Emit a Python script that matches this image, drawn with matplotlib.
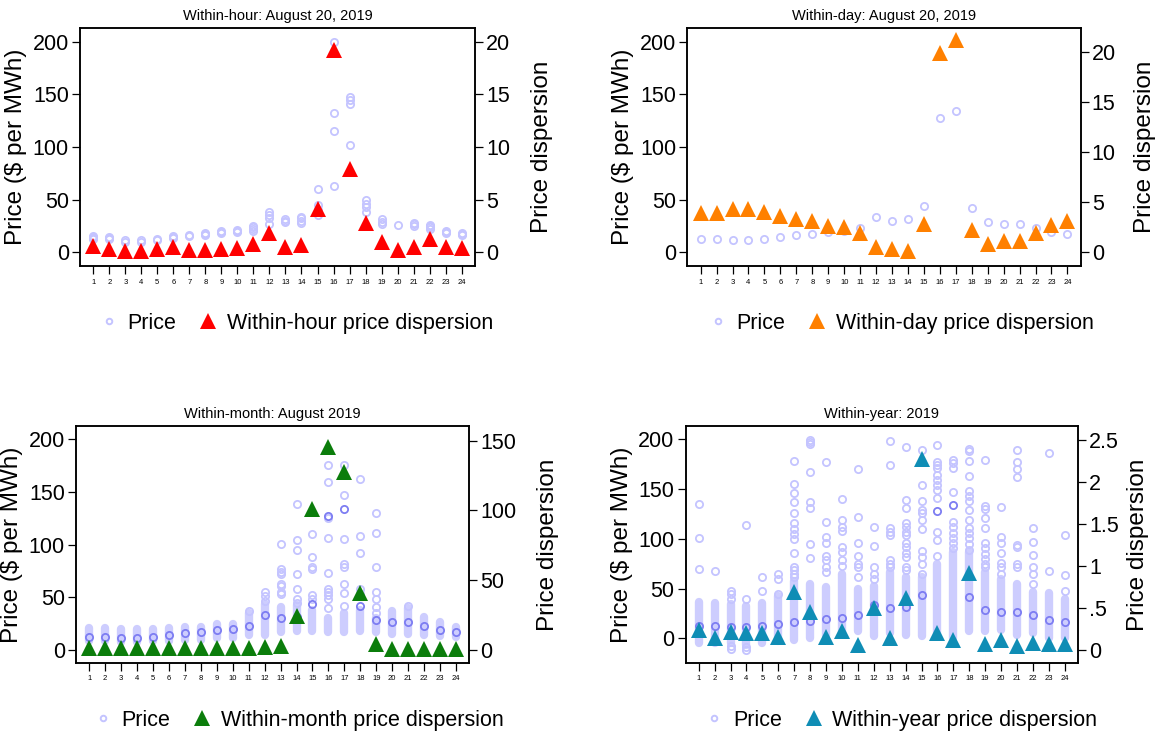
import matplotlib
matplotlib.use("Agg")
import matplotlib.pyplot as plt
from matplotlib.lines import Line2D

plt.rcParams['font.family'] = ['Liberation Sans', 'DejaVu Sans']

hours = list(range(1, 25))

# within-hour: 5-minute prices on August 20, 2019
hour_prices = [
    [12, 13, 14, 15], [12, 13, 14], [10, 11], [10, 11], [11, 12], [13, 14, 15],
    [15, 16], [16, 17, 18], [18, 19, 20], [19, 20, 21], [20, 22, 24, 25],
    [27, 32, 35, 38], [29, 30, 31], [28, 30, 32, 33], [35, 40, 45, 60],
    [63, 115, 132, 200], [102, 141, 145, 148], [38, 43, 46, 50], [27, 29, 31],
    [26], [25, 27, 28], [22, 24, 25, 26], [18, 19, 20], [16, 17, 18],
]
hour_disp = [0.6, 0.3, 0.1, 0.1, 0.3, 0.5, 0.2, 0.2, 0.3, 0.4, 0.8, 1.8,
             0.5, 0.7, 4.1, 19.2, 7.9, 2.8, 1.0, 0.2, 0.5, 1.2, 0.5, 0.4]

# within-day: hourly price on August 20, 2019
day_price = [12.7, 12.7, 11, 11, 12, 14, 16, 17, 19, 20, 23, 33,
             30, 31, 44, 127.5, 134, 41.5, 28.5, 26.6, 26.6, 23, 18.7, 16.8]
day_disp = [3.9, 3.9, 4.3, 4.3, 4.05, 3.6, 3.3, 3.1, 2.65, 2.5, 1.9, 0.5,
            0.35, 0.15, 2.8, 19.9, 21.2, 2.2, 0.8, 1.15, 1.1, 1.9, 2.7, 3.15]

# within-month: August 2019 (dense range + scattered prices)
month_lo = [9, 9, 8, 8, 9, 9, 10, 10, 11, 11, 14, 14,
            17, 18, 18, 17, 17, 18, 17, 15, 15, 14, 13, 12]
month_hi = [21, 21, 20, 20, 20, 21, 22, 22, 25, 25, 35, 44,
            41, 43, 38, 30, 35, 38, 30, 37, 40, 31, 27, 22]
month_other = [
    [], [], [], [], [], [], [], [], [], [], [37], [47, 51, 55],
    [53, 55, 61, 63, 72, 74, 77, 101], [45, 48, 58, 72, 95, 104, 139],
    [48, 52, 77, 79, 88, 110], [40, 48, 52, 55, 58, 73, 106, 125, 159, 176],
    [42, 54, 63, 79, 82, 105, 147, 176], [53, 58, 92, 108, 162],
    [35, 41, 48, 55, 79, 111, 130], [], [42], [], [], [],
]
month_disp = [1.5, 1.5, 1.5, 1.5, 1.5, 1.5, 1.5, 1.5, 1.5, 1.5, 1.7, 1.9,
              2.9, 24.4, 100.8, 145.5, 127.8, 40.6, 4.3, 0.8, 0.8, 0.8, 0.8, 0.8]

# within-year: 2019
year_lo = [-5, -5, -5, -7, -5, -3, -2, 0, 2, 5, 7, 2,
           5, 3, 2, 2, 0, 7, 7, 8, 3, 5, 0, 0]
year_hi = [37, 36, 35, 32, 36, 43, 58, 55, 52, 65, 50, 53,
           67, 62, 62, 75, 87, 87, 67, 60, 55, 47, 46, 40]
year_other = [
    [70, 101, 135], [68], [40, 45, 48, -8, -11], [40, 114, -9, -12], [48, 62],
    [45, 60, 65],
    [62, 65, 69, 72, 86, 100, 105, 110, 116, 126, 137, 146, 155, 178],
    [81, 95, 131, 137, 167, 195, 197, 199],
    [67, 72, 79, 83, 96, 102, 117, 177],
    [73, 79, 87, 92, 108, 112, 119, 140],
    [62, 72, 75, 83, 96, 122, 170],
    [60, 65, 72, 93, 112],
    [72, 75, 79, 104, 107, 111, 174, 198],
    [69, 72, 82, 86, 92, 96, 104, 107, 112, 116, 131, 139, 192],
    [65, 75, 82, 88, 110, 119, 126, 129, 138, 154, 177, 189],
    [83, 99, 107, 141, 149, 154, 159, 164, 171, 174, 177, 194],
    [91, 96, 101, 106, 112, 117, 147, 171, 176, 179],
    [89, 95, 101, 106, 111, 119, 129, 138, 143, 148, 163, 178, 188, 190],
    [72, 75, 80, 85, 91, 96, 111, 121, 130, 133, 179],
    [65, 72, 76, 86, 96, 102, 132],
    [72, 75, 92, 94, 162, 170, 177, 189],
    [55, 65, 72, 84, 97, 111],
    [68, 186],
    [48, 64, 104],
]
year_disp = [0.24, 0.14, 0.21, 0.2, 0.2, 0.16, 0.69, 0.45, 0.16, 0.23, 0.06, 0.5,
             0.14, 0.62, 2.28, 0.2, 0.12, 0.92, 0.07, 0.12, 0.05, 0.08, 0.07, 0.07]

LIGHT = '#c4c4ff'
DARK = '#7d7df2'
CIRC = dict(marker='o', ms=5.2, mfc='none', mew=1.3, ls='none')
TRI = dict(marker='^', ms=12, ls='none', mew=0)

fig = plt.figure(figsize=(11.59, 7.33), dpi=100)


def style(ax, ax2, title, ylim, ylim2, yt2, yt2lab=None, rpad=15):
    ax.set_xlim(0.17, 24.83)
    ax.set_ylim(*ylim)
    ax2.set_ylim(*ylim2)
    ax.set_xticks(hours)
    ax.set_xticklabels([str(h) for h in hours], fontsize=5.5)
    ax.set_yticks([0, 50, 100, 150, 200])
    ax2.set_yticks(yt2)
    if yt2lab is not None:
        ax2.set_yticklabels(yt2lab)
    ax.tick_params(axis='x', length=6, width=0.9, pad=3, direction='out')
    ax.tick_params(axis='y', labelsize=15.5, length=6, width=0.9, pad=2)
    ax2.tick_params(axis='y', labelsize=15.5, length=6, width=0.9, pad=2)
    for a in (ax, ax2):
        for s in a.spines.values():
            s.set_linewidth(1.1)
    ax.set_ylabel('Price ($ per MWh)', fontsize=17.5, labelpad=4)
    ax2.set_ylabel('Price dispersion', fontsize=17.5, labelpad=rpad)
    ax.set_title(title, fontsize=10.5, pad=6)


def legend(ax, color, label, x, y):
    h1 = Line2D([], [], color=LIGHT, marker='o', ms=4, mfc='none', mew=1.4, ls='none')
    h2 = Line2D([], [], color=color, marker='^', ms=12, ls='none', mew=0)
    fig.legend([h1, h2], ['Price', label], loc='center', bbox_to_anchor=(x, y),
               ncol=2, frameon=False, fontsize=15.5, handletextpad=0.25,
               columnspacing=0.9, handlelength=1.2)


# within-hour
ax = fig.add_axes([0.0690, 0.6371, 0.3408, 0.3247])
ax2 = ax.twinx()
for h, vals in zip(hours, hour_prices):
    ax.plot([h] * len(vals), vals, color=LIGHT, **CIRC)
ax2.plot(hours, hour_disp, color='#ff0000', **TRI)
style(ax, ax2, 'Within-hour: August 20, 2019', (-13.3, 213.3), (-1.33, 21.33),
      [0, 5, 10, 15, 20])
legend(ax, '#ff0000', 'Within-hour price dispersion', 0.254, 0.559)

# within-day
ax = fig.add_axes([0.5931, 0.6371, 0.3393, 0.3247])
ax2 = ax.twinx()
ax.plot(hours, day_price, color=LIGHT, **CIRC)
ax2.plot(hours, day_disp, color='#ff8000', **TRI)
style(ax, ax2, 'Within-day: August 20, 2019', (-13.3, 213.3), (-1.37, 22.36),
      [0, 5, 10, 15, 20], rpad=13)
legend(ax, '#ff8000', 'Within-day price dispersion', 0.776, 0.559)

# within-month
ax = fig.add_axes([0.0655, 0.0955, 0.3394, 0.3233])
ax2 = ax.twinx()
ax.vlines(hours, month_lo, month_hi, color='#cdcdfe', lw=6, capstyle='round')
for h, vals in zip(hours, month_other):
    ax.plot([h] * len(vals), vals, color=LIGHT, **CIRC)
ax.plot(hours, day_price, color=DARK, **CIRC)
ax2.plot(hours, month_disp, color='#0b7d0b', **TRI)
style(ax, ax2, 'Within-month: August 2019', (-12.3, 212.6), (-9.3, 160.5),
      [0, 50, 100, 150])
legend(ax, '#0b7d0b', 'Within-month price dispersion', 0.256, 0.0177)

# within-year
ax = fig.add_axes([0.5915, 0.0955, 0.3386, 0.3233])
ax2 = ax.twinx()
ax.vlines(hours, year_lo, year_hi, color='#cdcdfe', lw=6, capstyle='round')
for h, vals in zip(hours, year_other):
    ax.plot([h] * len(vals), vals, color=LIGHT, **CIRC)
ax.plot(hours, day_price, color=DARK, **CIRC)
ax2.plot(hours, year_disp, color='#0f8db5', **TRI)
style(ax, ax2, 'Within-year: 2019', (-24.8, 213.4), (-0.155, 2.667),
      [0, 0.5, 1, 1.5, 2, 2.5], ['0', '.5', '1', '1.5', '2', '2.5'], rpad=6)
legend(ax, '#0f8db5', 'Within-year price dispersion', 0.776, 0.0177)

fig.savefig('out.png', dpi=100)
